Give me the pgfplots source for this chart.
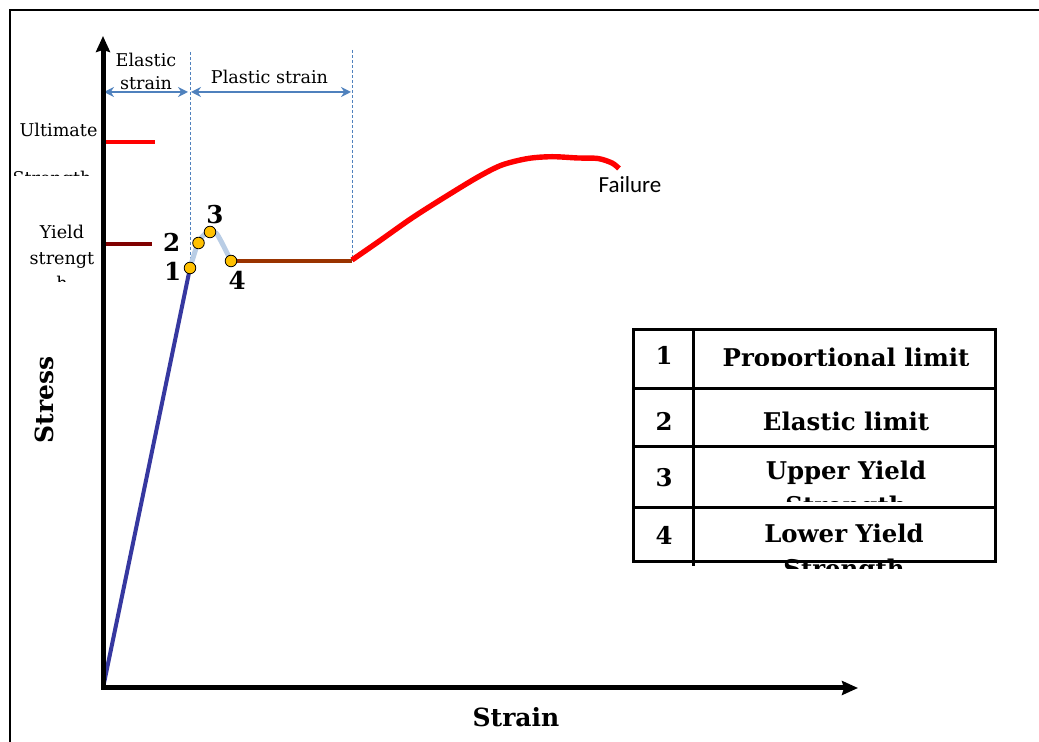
\documentclass[border=0pt]{standalone}
\usepackage{fontspec}
\setmainfont{DejaVu Serif}
\newfontfamily\sansf{Carlito}
\usepackage{pgfplots}
\pgfplotsset{compat=1.18}
\usetikzlibrary{arrows.meta}
\definecolor{elblue}{RGB}{54,56,160}
\definecolor{ltblue}{RGB}{185,205,229}
\definecolor{plbrown}{RGB}{153,51,0}
\definecolor{ydred}{RGB}{128,0,0}
\definecolor{arrblue}{RGB}{79,129,189}
\definecolor{ptyellow}{RGB}{255,192,0}
\newcommand{\fs}[1]{\fontsize{#1}{#1}\selectfont}
\begin{document}
\begin{tikzpicture}
\begin{axis}[width=519.5pt,height=371pt,scale only axis,
  xmin=0,xmax=1039,ymin=0,ymax=742,y dir=reverse,hide axis,clip=false]
% frame
\draw[black,line width=1.2pt] (axis cs:10,742) -- (axis cs:10,10) -- (axis cs:1039,10);
% dotted guides
\draw[arrblue,line width=0.5pt,dash pattern=on 1.5pt off 1pt] (axis cs:190,52) -- (axis cs:190,268);
\draw[arrblue,line width=0.5pt,dash pattern=on 1.5pt off 1pt] (axis cs:352,50) -- (axis cs:352,261);
% strain range arrows
\draw[arrblue,line width=1pt,{Stealth[length=5pt,width=5pt]}-{Stealth[length=5pt,width=5pt]}] (axis cs:104,92) -- (axis cs:188,92);
\draw[arrblue,line width=1pt,{Stealth[length=5pt,width=5pt]}-{Stealth[length=5pt,width=5pt]}] (axis cs:191,92) -- (axis cs:351,92);
% data
\addplot[elblue,line width=2pt] coordinates {(103,688) (190,268)};
\addplot[ltblue,line width=2.5pt,smooth] coordinates {(190,268) (198,243) (205,234) (210,232) (216,233) (222,243) (231,261)};
\addplot[plbrown,line width=2.2pt] coordinates {(231,261) (352,261)};
\addplot[red,line width=2.7pt,smooth,tension=0.5] coordinates {(352,260) (378,242) (412,218) (445,197) (478,177) (502,165) (528,158.5) (552,156.7) (578,158) (598,158.5) (612,163) (619,168.5)};
\addplot[red,line width=1.8pt] coordinates {(103,142) (155,142)};
\addplot[ydred,line width=1.8pt] coordinates {(103,244) (152,244)};
% axes
\draw[black,line width=2.5pt,-{Stealth[length=8pt,width=7pt,inset=1pt]}] (axis cs:103,690) -- (axis cs:103,36);
\draw[black,line width=2.5pt,-{Stealth[length=8pt,width=7pt,inset=1pt]}] (axis cs:101,688) -- (axis cs:858,688);
\addplot[only marks,mark=*,mark size=2.9pt,mark options={fill=ptyellow,draw=black,line width=0.4pt}] coordinates {(190,268) (198.5,243) (210,232) (231,261)};
% labels
\node[anchor=base,inner sep=0,font=\fs{8.8}] at (axis cs:146,66.7) {Elastic};
\node[anchor=base,inner sep=0,font=\fs{8.8}] at (axis cs:146,90) {strain};
\node[anchor=base,inner sep=0,font=\fs{8.8}] at (axis cs:269.5,83.3) {Plastic strain};
\node[anchor=base,inner sep=0,font=\fs{8.8}] at (axis cs:58.5,136.7) {Ultimate};
\begin{scope}
\clip (axis cs:12,160) rectangle (axis cs:100,176);
\node[anchor=base,inner sep=0,font=\fs{8.8}] at (axis cs:52,185) {Strength};
\end{scope}
\node[anchor=base,inner sep=0,font=\fs{8.8}] at (axis cs:62,239) {Yield};
\node[anchor=base,inner sep=0,font=\fs{8.8}] at (axis cs:62,265) {strengt};
\begin{scope}
\clip (axis cs:12,270) rectangle (axis cs:100,282);
\node[anchor=base,inner sep=0,font=\fs{8.8}] at (axis cs:62,290) {h};
\end{scope}
\node[anchor=base,inner sep=0,font=\sansf\fs{11.5}] at (axis cs:630,193) {Failure};
\node[anchor=base,inner sep=0,font=\bfseries\fs{12.3}] at (axis cs:172.7,280.7) {1};
\node[anchor=base,inner sep=0,font=\bfseries\fs{12.3}] at (axis cs:171.7,251.7) {2};
\node[anchor=base,inner sep=0,font=\bfseries\fs{12.3}] at (axis cs:215,224) {3};
\node[anchor=base,inner sep=0,font=\bfseries\fs{12.3}] at (axis cs:237.3,290) {4};
\node[anchor=base,inner sep=0,font=\bfseries\fs{12.5}] at (axis cs:516,726) {Strain};
\node[anchor=base,inner sep=0,rotate=90,font=\bfseries\fs{12.5}] at (axis cs:53,400) {Stress};
% table text
\node[anchor=base,inner sep=0,font=\bfseries\fs{12.2}] at (axis cs:664,365) {1};
\node[anchor=base,inner sep=0,font=\bfseries\fs{12.2}] at (axis cs:664,431) {2};
\node[anchor=base,inner sep=0,font=\bfseries\fs{12.2}] at (axis cs:664,486.7) {3};
\node[anchor=base,inner sep=0,font=\bfseries\fs{12.2}] at (axis cs:664,545) {4};
\begin{scope}
\clip (axis cs:695,331) rectangle (axis cs:994,366);
\node[anchor=base,inner sep=0,font=\bfseries\fs{12.2}] at (axis cs:846,366.5) {Proportional limit};
\end{scope}
\node[anchor=base,inner sep=0,font=\bfseries\fs{12.2}] at (axis cs:846,431) {Elastic limit};
\begin{scope}
\clip (axis cs:695,448) rectangle (axis cs:994,502);
\node[anchor=base,inner sep=0,font=\bfseries\fs{12.2}] at (axis cs:846,480) {Upper Yield};
\node[anchor=base,inner sep=0,font=\bfseries\fs{12.2}] at (axis cs:846,515) {Strength};
\end{scope}
\begin{scope}
\clip (axis cs:695,509) rectangle (axis cs:994,569);
\node[anchor=base,inner sep=0,font=\bfseries\fs{12.2}] at (axis cs:844,543) {Lower Yield};
\node[anchor=base,inner sep=0,font=\bfseries\fs{12.2}] at (axis cs:844,578) {Strength};
\end{scope}
% table lines
\draw[black,line width=1.5pt] (axis cs:633,330) rectangle (axis cs:995,562);
\draw[black,line width=1.5pt] (axis cs:633,389) -- (axis cs:995,389);
\draw[black,line width=1.5pt] (axis cs:633,447) -- (axis cs:995,447);
\draw[black,line width=1.5pt] (axis cs:633,508) -- (axis cs:995,508);
\draw[black,line width=1.5pt] (axis cs:693,330) -- (axis cs:693,566);
\end{axis}
\pgfresetboundingbox
\path (current axis.south west) rectangle (current axis.north east);
\end{tikzpicture}
\end{document}
